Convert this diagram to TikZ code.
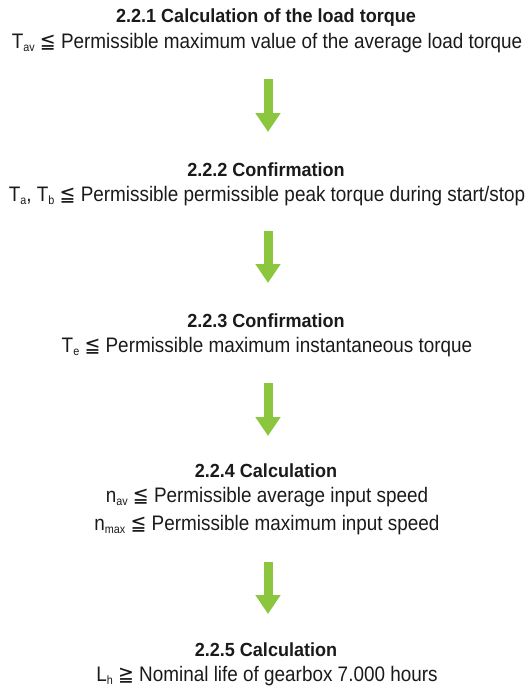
\documentclass[tikz,border=0pt]{standalone}
\usepackage{fontspec}
\setmainfont{Liberation Sans}[FakeStretch=0.9, BoldFeatures={FakeStretch=0.95}]
\newfontfamily\relfont{DejaVu Sans}[FakeStretch=0.9]
\usetikzlibrary{arrows.meta}
\definecolor{arrowgreen}{HTML}{8CC63F}
\definecolor{inktext}{HTML}{1A1A1A}
% lowered index, e.g. T_av
\newcommand\idx[1]{\raisebox{-0.35ex}{\fontsize{12}{12}\selectfont #1}}
\newcommand\leqq{{\relfont\char"2266}}
\newcommand\geqq{{\relfont\char"2267}}
\tikzset{
  title/.style={anchor=base, inner sep=0pt, text=inktext, font=\fontsize{19}{19}\selectfont\bfseries},
  body/.style={anchor=base, inner sep=0pt, text=inktext, font=\fontsize{21}{21}\selectfont},
  flowarrow/.style={draw=arrowgreen, line width=9pt, line cap=butt,
    -{Triangle[width=24pt,length=19pt,fill=arrowgreen]}}
}
\begin{document}
\begin{tikzpicture}[x=1pt,y=1pt]
\useasboundingbox (0,0) rectangle (531,-691);
% step 1
\node[title] (t1) at (266,-22) {2.2.1 Calculation of the load torque};
\node[body]  (b1) at (267,-48) {T\idx{av} \leqq\ Permissible maximum value of the average load torque};
% step 2
\node[title] (t2) at (266,-176) {2.2.2 Confirmation};
\node[body]  (b2) at (267,-201) {T\idx{a}, T\idx{b} \leqq\ Permissible permissible peak torque during start/stop};
% step 3
\node[title] (t3) at (266,-327) {2.2.3 Confirmation};
\node[body]  (b3) at (267,-352) {T\idx{e} \leqq\ Permissible maximum instantaneous torque};
% step 4
\node[title] (t4) at (266,-477) {2.2.4 Calculation};
\node[body]  (b4a) at (267,-502) {n\idx{av} \leqq\ Permissible average input speed};
\node[body]  (b4b) at (267,-530) {n\idx{max} \leqq\ Permissible maximum input speed};
% step 5
\node[title] (t5) at (266,-656) {2.2.5 Calculation};
\node[body]  (b5) at (267,-681) {L\idx{h} \geqq\ Nominal life of gearbox 7.000 hours};
% arrows between the steps
\draw[flowarrow] ([xshift=1pt,yshift=-31pt]b1.base) -- ([xshift=2pt,yshift=44pt]t2.base);
\draw[flowarrow] ([xshift=1pt,yshift=-30pt]b2.base) -- ([xshift=2pt,yshift=44pt]t3.base);
\draw[flowarrow] ([xshift=1pt,yshift=-31pt]b3.base) -- ([xshift=2pt,yshift=41pt]t4.base);
\draw[flowarrow] ([xshift=1pt,yshift=-32pt]b4b.base) -- ([xshift=2pt,yshift=42pt]t5.base);
\end{tikzpicture}
\end{document}
